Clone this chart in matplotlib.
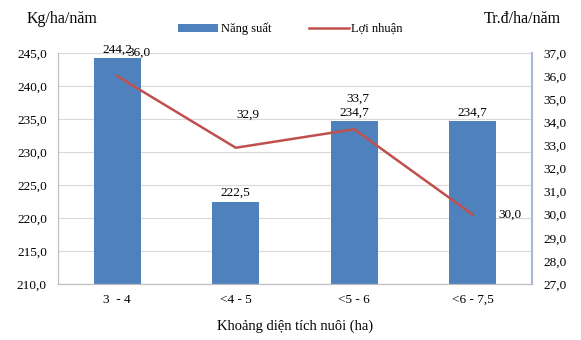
import matplotlib.pyplot as plt

categories = ['3  - 4', '<4 - 5', '<5 - 6', '<6 - 7,5']
nang_suat = [244.2, 222.5, 234.7, 234.7]
loi_nhuan = [36.0, 32.9, 33.7, 30.0]


def fmt(v):
    return ('%.1f' % v).replace('.', ',')


def main():
    plt.rcParams['font.family'] = ['Liberation Serif', 'DejaVu Serif']
    fig = plt.figure(figsize=(5.81, 3.40), dpi=100)
    ax = fig.add_axes([0.0998, 0.1647, 0.8159, 0.6793])
    ax2 = ax.twinx()

    x = list(range(len(categories)))
    bars = ax.bar(x, nang_suat, width=0.4, color='#4F81BD', zorder=2,
                  label='Năng suất')
    ax.set_ylim(210, 245)
    ax.set_yticks(range(210, 246, 5))
    ax.set_yticklabels([fmt(v) for v in range(210, 246, 5)], fontsize=9.5)
    ax.set_xlim(-0.5, len(categories) - 0.5)
    ax.set_xticks(x)
    ax.set_xticklabels(categories, fontsize=9.5)
    ax.grid(axis='y', color='#D9D9D9', linewidth=0.8, zorder=0)
    ax.tick_params(axis='x', length=0, pad=7)
    ax.tick_params(axis='y', length=0, pad=8)
    for b, v in zip(bars, nang_suat):
        ax.text(b.get_x() + b.get_width() / 2, v + 0.4, fmt(v),
                ha='center', va='bottom', fontsize=9.5)

    line, = ax2.plot(x, loi_nhuan, color='#C0504D', linewidth=1.8,
                     label='Lợi nhuận', zorder=3)
    ax2.set_ylim(27, 37)
    ax2.set_yticks(range(27, 38))
    ax2.set_yticklabels([fmt(v) for v in range(27, 38)], fontsize=9.5)
    ax2.tick_params(axis='y', length=0, pad=8)
    offsets = [(0.18, 1.0), (0.1, 1.45), (0.03, 1.3), (0.31, 0.0)]
    for xi, v, (dx, dy) in zip(x, loi_nhuan, offsets):
        ax2.text(xi + dx, v + dy, fmt(v), ha='center', va='center',
                 fontsize=9.5)

    for a in (ax, ax2):
        a.spines['top'].set_visible(False)
        a.spines['left'].set_color('#BFBFBF')
        a.spines['bottom'].set_color('#BFBFBF')
        a.spines['right'].set_color('#A6B9D6')
    ax2.spines['right'].set_linewidth(1.5)

    ax.set_xlabel('Khoảng diện tích nuôi (ha)', fontsize=10.5, labelpad=10)
    fig.text(0.045, 0.945, 'Kg/ha/năm', fontsize=11.5, ha='left',
             va='center')
    fig.text(0.965, 0.945, 'Tr.đ/ha/năm', fontsize=11.5, ha='right',
             va='center')
    fig.legend([bars, line], ['Năng suất', 'Lợi nhuận'], loc='center',
               bbox_to_anchor=(0.5, 0.915), ncol=2, frameon=False,
               fontsize=9, handlelength=3.2, handleheight=0.6,
               columnspacing=3, handletextpad=0.2)
    fig.savefig('out.png', dpi=100)


if __name__ == '__main__':
    main()
